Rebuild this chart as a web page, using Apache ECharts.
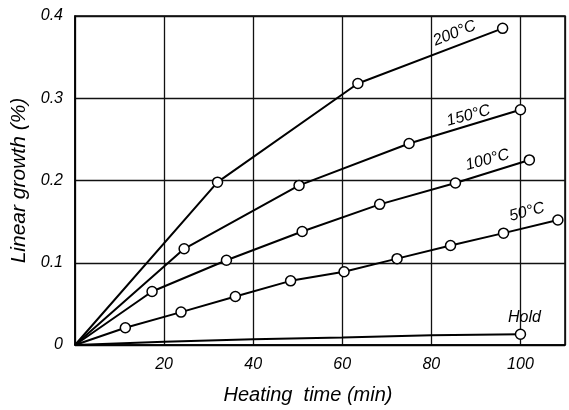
<!DOCTYPE html>
<html>
<head>
<meta charset="utf-8">
<script src="https://cdn.jsdelivr.net/npm/echarts@6/dist/echarts.min.js"></script>
<style>
  html, body { margin: 0; padding: 0; background: #fff; }
  #chart { width: 569px; height: 410px; }
</style>
</head>
<body>
<div id="chart"></div>
<script>
// ---- data ----
const seriesNames = ['200°C', '150°C', '100°C', '50°C', 'Hold'];
const data200 = [[0, 0], [32, 0.198], [63.5, 0.318], [96, 0.385]];
const data150 = [[0, 0], [24.5, 0.117], [50.3, 0.194], [75, 0.245], [100, 0.286]];
const data100 = [[0, 0], [17.3, 0.065], [34, 0.103], [51, 0.138], [68.4, 0.171], [85.4, 0.197], [102, 0.225]];
const data50 = [[0, 0], [11.3, 0.021], [23.8, 0.040], [36, 0.059], [48.4, 0.078], [60.4, 0.089], [72.3, 0.105], [84.3, 0.121], [96.2, 0.136], [108.4, 0.152]];
const dataHold = [[0, 0], [20, 0.004], [40, 0.007], [60, 0.009], [80, 0.012], [100, 0.013]];
const holdMarked = [false, false, false, false, false, true];
const xTickLabels = { 0: '', 20: '20', 40: '40', 60: '60', 80: '80', 100: '100' };
const yTickLabels = { 0: '0', 0.1: '0.1', 0.2: '0.2', 0.3: '0.3', 0.4: '0.4' };
const xAxisName = 'Heating  time (min)';
const yAxisName = 'Linear growth (%)';

// ---- styling ----
const FONT = 'Liberation Sans';
// screen offsets (from marker centre to label centre) and rotations
const labelStyles = [
  { offset: [-48, 5], rotate: 22 },
  { offset: [-52, 6], rotate: 15 },
  { offset: [-42, 0], rotate: 15 },
  { offset: [-31, -8], rotate: 15 },
  { offset: [4, -17], rotate: 0 }
];

// ECharts applies label offset in the rotated frame; convert screen offset to local
function localOffset(off, deg) {
  const t = deg * Math.PI / 180, c = Math.cos(t), s = Math.sin(t);
  return [off[0] * c - off[1] * s, off[0] * s + off[1] * c];
}

function buildData(arr, name, idx, marked) {
  const last = arr.length - 1;
  return arr.map((p, i) => {
    const show = marked ? marked[i] : i > 0;
    const item = { value: p, symbol: show ? 'circle' : 'none' };
    if (i === last) {
      item.label = {
        show: true,
        formatter: name,
        position: 'inside',
        offset: localOffset(labelStyles[idx].offset, labelStyles[idx].rotate),
        rotate: labelStyles[idx].rotate,
        align: 'center',
        verticalAlign: 'middle',
        color: '#000',
        fontFamily: FONT,
        fontStyle: 'italic',
        fontSize: 16
      };
    }
    return item;
  });
}

const allData = [data200, data150, data100, data50, dataHold];
const series = allData.map((arr, idx) => ({
  type: 'line',
  name: seriesNames[idx],
  data: buildData(arr, seriesNames[idx], idx, idx === 4 ? holdMarked : null),
  symbolSize: 10,
  showAllSymbol: true,
  lineStyle: { color: '#000', width: 2 },
  itemStyle: { color: '#fff', borderColor: '#000', borderWidth: 1.5 },
  label: { show: false },
  emphasis: { disabled: true },
  animation: false,
  z: 3
}));

const chart = echarts.init(document.getElementById('chart'), null, { renderer: 'canvas' });
chart.setOption({
  backgroundColor: '#fff',
  animation: false,
  grid: { left: 75, right: 4, top: 16, bottom: 64, show: true, borderColor: '#000', borderWidth: 1.5, backgroundColor: 'transparent' },
  xAxis: {
    type: 'value',
    min: 0, max: 110, interval: 20,
    name: xAxisName,
    nameLocation: 'middle',
    nameGap: 40,
    nameTextStyle: { fontFamily: FONT, fontStyle: 'italic', fontSize: 20, color: '#000', padding: [0, 24, 0, 0] },
    axisLine: { show: true, lineStyle: { color: '#000', width: 1.5 } },
    axisTick: { show: false },
    axisLabel: {
      margin: 12, color: '#000', fontFamily: FONT, fontStyle: 'italic', fontSize: 16,
      formatter: v => (xTickLabels[v] !== undefined ? xTickLabels[v] : '')
    },
    splitLine: { show: true, lineStyle: { color: '#111', width: 1.3 } }
  },
  yAxis: {
    type: 'value',
    min: 0, max: 0.4, interval: 0.1,
    name: yAxisName,
    nameLocation: 'middle',
    nameRotate: 90,
    nameGap: 44,
    nameTextStyle: { fontFamily: FONT, fontStyle: 'italic', fontSize: 21, color: '#000' },
    axisLine: { show: true, lineStyle: { color: '#000', width: 1.5 } },
    axisTick: { show: false },
    axisLabel: {
      margin: 12, color: '#000', fontFamily: FONT, fontStyle: 'italic', fontSize: 16,
      formatter: v => { const k = Math.round(v * 10) / 10; return yTickLabels[k] !== undefined ? yTickLabels[k] : ''; }
    },
    splitLine: { show: true, lineStyle: { color: '#111', width: 1.3 } }
  },
  series: series
});
</script>
</body>
</html>
